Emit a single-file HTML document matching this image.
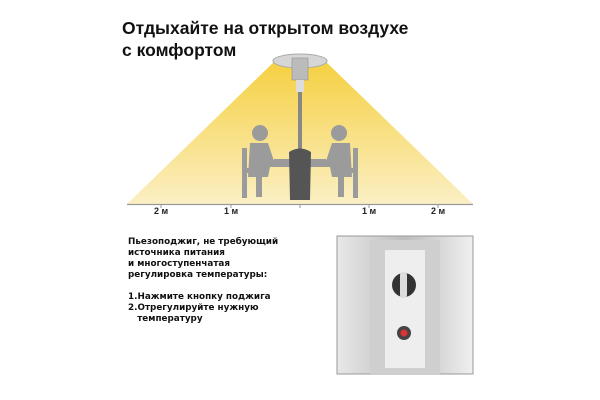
<!DOCTYPE html>
<html><head><meta charset="utf-8"><style>
body{margin:0;width:600px;height:400px;background:#fff;overflow:hidden;position:relative;font-family:"Liberation Sans","DejaVu Sans",sans-serif}
.t{position:absolute;left:122px;top:17px;font-size:17.5px;font-weight:bold;line-height:22px;color:#111}
.m{position:absolute;top:206px;font-size:9px;font-weight:bold;color:#222}
.d{position:absolute;left:128px;top:237px;font-size:8.8px;font-weight:bold;line-height:11px;color:#111;font-family:"DejaVu Sans",sans-serif}
</style></head><body>
<svg width="600" height="400" style="position:absolute;left:0;top:0">
<defs><linearGradient id="g" x1="0" y1="0" x2="0" y2="1"><stop offset="0" stop-color="#f5d040"/><stop offset="1" stop-color="#fbefc4"/></linearGradient>
<linearGradient id="s" x1="0" y1="0" x2="1" y2="0"><stop offset="0" stop-color="#e8e8e8"/><stop offset=".5" stop-color="#bdbdbd"/><stop offset="1" stop-color="#f0f0f0"/></linearGradient></defs>
<polygon points="276,60 324,60 473,204 127,204" fill="url(#g)"/>
<line x1="127" y1="204.5" x2="473" y2="204.5" stroke="#999" stroke-width="1.2"/>
<g stroke="#999" stroke-width="1"><line x1="161" y1="204" x2="161" y2="208"/><line x1="231" y1="204" x2="231" y2="208"/><line x1="300" y1="204" x2="300" y2="208"/><line x1="369" y1="204" x2="369" y2="208"/><line x1="438" y1="204" x2="438" y2="208"/></g>
<ellipse cx="300" cy="61" rx="27" ry="7" fill="#d6d6d6" stroke="#aaa"/>
<rect x="292" y="58" width="16" height="22" fill="#bbb" stroke="#888" stroke-width=".5"/>
<rect x="296" y="80" width="8" height="12" fill="#ddd"/>
<rect x="298" y="92" width="4" height="58" fill="#888"/>
<g fill="#9b9b9b">
<circle cx="260" cy="133" r="8"/><path d="M250 143h18l6 18h30v6h-34l-2 10h-6v20h-6v-20h-8z"/><rect x="242" y="148" width="5" height="50"/><rect x="242" y="168" width="20" height="5"/>
<circle cx="339" cy="133" r="8"/><path d="M350 143h-18l-6 18h-30v6h34l2 10h6v20h6v-20h8z"/><rect x="353" y="148" width="5" height="50"/><rect x="338" y="168" width="20" height="5"/>
<rect x="274" y="159" width="52" height="4"/>
</g>
<path d="M289 152 Q300 145 311 152 L310 200 H290Z" fill="#555"/>
<rect x="337" y="236" width="136" height="138" fill="url(#s)" stroke="#999"/>
<rect x="370" y="240" width="70" height="134" fill="#cfcfcf"/>
<rect x="385" y="250" width="40" height="118" fill="#eee"/>
<circle cx="404" cy="285" r="12" fill="#333"/><rect x="400" y="272" width="7" height="26" rx="3" fill="#ddd"/>
<circle cx="404" cy="333" r="7" fill="#444"/><circle cx="404" cy="333" r="3.5" fill="#d33"/>
</svg>
<div class="t">Отдыхайте на открытом воздухе<br>с комфортом</div>
<div class="m" style="left:154px">2 м</div><div class="m" style="left:224px">1 м</div>
<div class="m" style="left:362px">1 м</div><div class="m" style="left:431px">2 м</div>
<div class="d">Пьезоподжиг, не требующий<br>источника питания<br>и многоступенчатая<br>регулировка температуры:<br><br>1.Нажмите кнопку поджига<br>2.Отрегулируйте нужную<br>&nbsp;&nbsp;&nbsp;температуру</div>
</body></html>
